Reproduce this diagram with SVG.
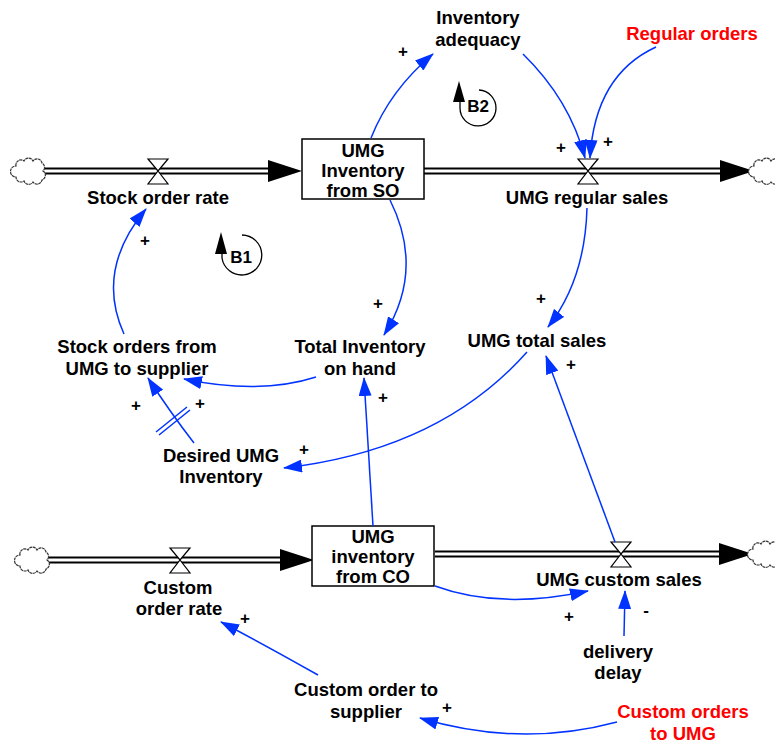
<svg xmlns="http://www.w3.org/2000/svg" width="775" height="746" viewBox="0 0 775 746">
<style>
.lbl{font-family:"Liberation Sans",Arial,sans-serif;font-size:18.5px;font-weight:bold;fill:#000;text-anchor:middle}
.red{fill:#ff0000}
.sign{font-family:"Liberation Sans",Arial,sans-serif;font-size:17px;font-weight:bold;fill:#000;text-anchor:middle}
.link{fill:none;stroke:#0033ff;stroke-width:1.5;marker-end:url(#ah)}
.delay{fill:none;stroke:#0033ff;stroke-width:1.5}
.pipeo{fill:none;stroke:#000;stroke-width:7}
.pipei{fill:none;stroke:#fff;stroke-width:3}
.valve{fill:#fff;stroke:#000;stroke-width:1.2}
.box{fill:#fff;stroke:#000;stroke-width:1.5}
.cloud{fill:#fff;stroke:#333;stroke-width:1.2;stroke-dasharray:3 0.6}
.loop{fill:none;stroke:#000;stroke-width:1.3}
</style>
<defs>
<marker id="ah" markerUnits="userSpaceOnUse" markerWidth="19" markerHeight="13" viewBox="0 0 19 13" refX="18" refY="6.5" orient="auto"><path d="M0,0 L19,6.5 L0,13 z" fill="#0033ff"/></marker>
<path id="cloud" class="cloud" d="M-13,-5 a5,5 0 0 1 8,-5 a5,5 0 0 1 9,0 a5,5 0 0 1 9,2 a5,5 0 0 1 1,8 a5,5 0 0 1 -1,9 a5,5 0 0 1 -9,2 a5,5 0 0 1 -9,-1 a5,5 0 0 1 -8,-4 a5,5 0 0 1 0,-11 z"/>
<path id="valve" class="valve" d="M-10,-12 L10,-12 L0,0 z M0,0 L10,13 L-10,13 z"/>
<path id="fhead" d="M0,-11 L34,0 L0,11 z" fill="#000"/>
</defs>

<g id="flows">
<line class="pipeo" x1="42" y1="171" x2="272" y2="171"/>
<line class="pipei" x1="42" y1="171" x2="272" y2="171"/>
<use href="#fhead" x="268" y="171"/>
<line class="pipeo" x1="424" y1="171" x2="724" y2="171"/>
<line class="pipei" x1="424" y1="171" x2="724" y2="171"/>
<use href="#fhead" x="720" y="171"/>
<line class="pipeo" x1="46" y1="560" x2="284" y2="560"/>
<line class="pipei" x1="46" y1="560" x2="284" y2="560"/>
<use href="#fhead" x="280" y="560"/>
<line class="pipeo" x1="435" y1="554" x2="723" y2="554"/>
<line class="pipei" x1="435" y1="554" x2="723" y2="554"/>
<use href="#fhead" x="719" y="554"/>
<use href="#cloud" x="29" y="171"/>
<use href="#cloud" x="767" y="171"/>
<use href="#cloud" x="33" y="560"/>
<use href="#cloud" x="766" y="554"/>
</g>

<g id="stock_order_rate">
<use href="#valve" x="158" y="171"/>
<text class="lbl" x="158" y="204">Stock order rate</text>
</g>
<g id="umg_inventory_so">
<rect class="box" x="302" y="139" width="122" height="60"/>
<text class="lbl" x="363" y="157">UMG</text>
<text class="lbl" x="363" y="177">Inventory</text>
<text class="lbl" x="363" y="197">from SO</text>
</g>
<g id="umg_regular_sales">
<use href="#valve" x="588" y="171"/>
<text class="lbl" x="587" y="204">UMG regular sales</text>
</g>
<g id="custom_order_rate">
<use href="#valve" x="180" y="560"/>
<text class="lbl" x="178" y="594">Custom</text>
<text class="lbl" x="179" y="615">order rate</text>
</g>
<g id="umg_inventory_co">
<rect class="box" x="312" y="526" width="122" height="60"/>
<text class="lbl" x="373" y="543">UMG</text>
<text class="lbl" x="373" y="563">inventory</text>
<text class="lbl" x="373" y="583">from CO</text>
</g>
<g id="umg_custom_sales">
<use href="#valve" x="621" y="554"/>
<text class="lbl" x="619" y="586">UMG custom sales</text>
</g>
<g id="inventory_adequacy">
<text class="lbl" x="478" y="24">Inventory</text>
<text class="lbl" x="478" y="46">adequacy</text>
</g>
<g id="regular_orders">
<text class="lbl red" x="692" y="40">Regular orders</text>
</g>
<g id="stock_orders">
<text class="lbl" x="137" y="353">Stock orders from</text>
<text class="lbl" x="137" y="375">UMG to supplier</text>
</g>
<g id="total_inventory">
<text class="lbl" x="360" y="353">Total Inventory</text>
<text class="lbl" x="360" y="375">on hand</text>
</g>
<g id="umg_total_sales">
<text class="lbl" x="537" y="347">UMG total sales</text>
</g>
<g id="desired_inventory">
<text class="lbl" x="221" y="462">Desired UMG</text>
<text class="lbl" x="221" y="483">Inventory</text>
</g>
<g id="delivery_delay">
<text class="lbl" x="618" y="658">delivery</text>
<text class="lbl" x="618" y="679">delay</text>
</g>
<g id="custom_order_supplier">
<text class="lbl" x="366" y="696">Custom order to</text>
<text class="lbl" x="366" y="718">supplier</text>
</g>
<g id="custom_orders_umg">
<text class="lbl red" x="683" y="718">Custom orders</text>
<text class="lbl red" x="683" y="740">to UMG</text>
</g>

<g id="loops">
<g id="loop_b1">
<path class="loop" d="M242,235 A20,20 0 1 1 222,258 L222,250"/>
<path d="M221,232 L215,254 L227,254 z" fill="#000"/>
<text class="lbl" x="241" y="263" style="font-size:17px">B1</text>
</g>
<g id="loop_b2">
<path class="loop" d="M479,90 A18,18 0 1 1 460,108 L460,100"/>
<path d="M459,81 L453,102 L465,102 z" fill="#000"/>
<text class="lbl" x="478" y="112" style="font-size:17px">B2</text>
</g>
</g>

<g id="connectors">
<path class="link" d="M371,138 Q390,90 433,54"/>
<path class="link" d="M523,54 Q570,100 585,158"/>
<path class="link" d="M656,47 Q595,75 590,158"/>
<path class="link" d="M390,200 Q425,270 384,335"/>
<path class="link" d="M587,208 Q585,280 548,327"/>
<path class="link" d="M527,352 Q440,450 284,468"/>
<path class="link" d="M373,526 L364,378"/>
<path class="link" d="M615,542 L546,356"/>
<path class="link" d="M316,377 Q260,395 184,379"/>
<path class="link" d="M194,443 Q170,412 148,378"/>
<path class="delay" d="M156,432 L187,407 M159,435 L190,410"/>
<path class="link" d="M124,334 Q95,270 146,209"/>
<path class="link" d="M435,586 Q500,610 588,591"/>
<path class="link" d="M624,636 L625,591"/>
<path class="link" d="M318,675 Q265,645 221,622"/>
<path class="link" d="M617,722 Q520,748 420,718"/>
</g>

<g id="polarities">
<text class="sign" x="403" y="57">+</text>
<text class="sign" x="561" y="153">+</text>
<text class="sign" x="608" y="147">+</text>
<text class="sign" x="145" y="246">+</text>
<text class="sign" x="378" y="309">+</text>
<text class="sign" x="541" y="304">+</text>
<text class="sign" x="571" y="370">+</text>
<text class="sign" x="136" y="411">+</text>
<text class="sign" x="200" y="409">+</text>
<text class="sign" x="304" y="455">+</text>
<text class="sign" x="383" y="403">+</text>
<text class="sign" x="569" y="622">+</text>
<text class="sign" x="646" y="616">-</text>
<text class="sign" x="245" y="624">+</text>
<text class="sign" x="447" y="713">+</text>
</g>
</svg>
